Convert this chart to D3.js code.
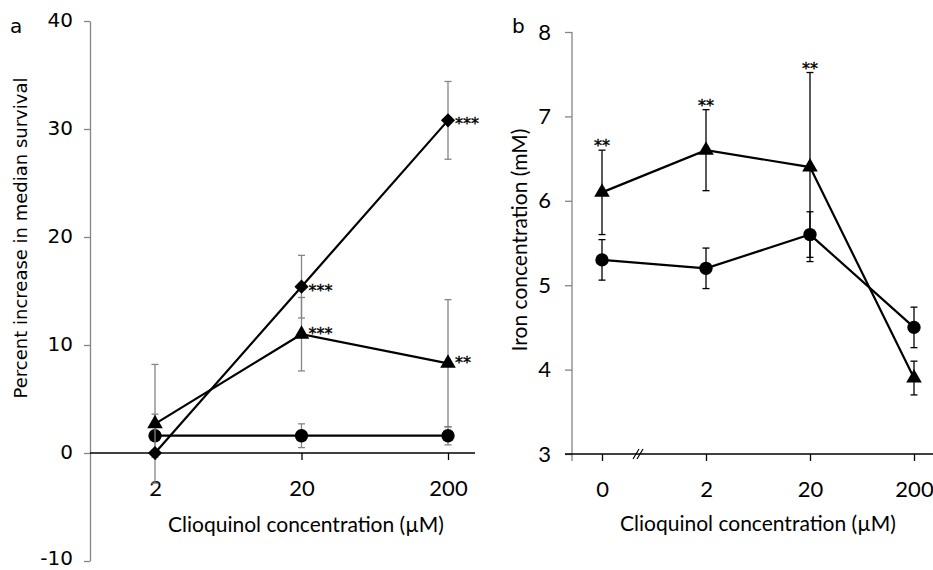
<!DOCTYPE html>
<html>
<head>
<meta charset="utf-8">
<script src="https://cdn.jsdelivr.net/npm/d3@7"></script>
<style>
  body { margin: 0; background: #fff; }
  svg { display: block; font-family: Lato, "Open Sans", sans-serif; }
  .sig { stroke: #000; stroke-width: 0.4px; fill: #000; }
</style>
</head>
<body>
<svg id="chart" width="933" height="570"></svg>
<script>
// panel a: percent increase in median survival
const aCats = ["2", "20", "200"];
const aDiamond = [0, 15.4, 30.8];
const aDiamondErr = [0, 2.9, 3.6];
const aTriangle = [2.7, 11.0, 8.3];
const aTriangleErr = [5.5, 3.4, 5.9];
const aCircle = [1.6, 1.6, 1.6];
const aCircleErr = [2.0, 1.1, 0.85];
const aDiamondSig = ["", "***", "***"];
const aTriangleSig = ["", "***", "**"];
const aTicks = [-10, 0, 10, 20, 30, 40];

// panel b: iron concentration
const bCats = ["0", "2", "20", "200"];
const bTriangle = [6.1, 6.6, 6.4, 3.9];
const bTriangleErr = [0.5, 0.48, 1.12, 0.2];
const bCircle = [5.3, 5.2, 5.6, 4.5];
const bCircleErr = [0.24, 0.24, 0.27, 0.24];
const bTriangleSig = ["**", "**", "**", ""];
const bTicks = [3, 4, 5, 6, 7, 8];

const svg = d3.select("#chart");
const grey = "#858585";
const sansA = "'DejaVu Sans', sans-serif";   // tahoma-ish texts
const sansB = "Lato, sans-serif";             // calibri-ish texts

const markers = {
  diamond: d3.symbol().type(d3.symbolSquare).size(100),
  triangle: d3.symbol().type(d3.symbolTriangle).size(105),
  circle: d3.symbol().type(d3.symbolCircle).size(140)
};

function series(g, x, y, cats, vals, errs, shape, errColor) {
  const rows = cats.map((c, i) => ({ c: c, v: vals[i], e: errs[i] }));

  // error bars
  const eb = g.append("g").attr("stroke", errColor).attr("stroke-width", 1.3);
  rows.filter(d => d.e > 0).forEach(d => {
    const cx = x(d.c), y1 = y(d.v + d.e), y2 = y(d.v - d.e);
    eb.append("line").attr("x1", cx).attr("x2", cx).attr("y1", y1).attr("y2", y2);
    eb.append("line").attr("x1", cx - 3.5).attr("x2", cx + 3.5).attr("y1", y1).attr("y2", y1);
    eb.append("line").attr("x1", cx - 3.5).attr("x2", cx + 3.5).attr("y1", y2).attr("y2", y2);
  });

  g.append("path")
    .datum(rows)
    .attr("fill", "none")
    .attr("stroke", "#000")
    .attr("stroke-width", 2.2)
    .attr("d", d3.line().x(d => x(d.c)).y(d => y(d.v)));

  g.selectAll(null)
    .data(rows)
    .enter()
    .append("path")
      .attr("d", markers[shape])
      .attr("fill", "#000")
      .attr("transform", d => "translate(" + x(d.c) + "," + y(d.v) + ")" + (shape == "diamond" ? " rotate(45)" : ""));
}

function styleAxis(g, color, font, size) {
  g.select(".domain").attr("stroke", color).attr("stroke-width", 1.3);
  g.selectAll(".tick line").attr("stroke", color).attr("stroke-width", 1.3);
  g.selectAll(".tick text").attr("fill", "#000").style("font-size", size + "px").style("font-family", font);
}

// ---------- panel a ----------
const ax = d3.scalePoint().domain(aCats).range([155, 448]);
const ay = d3.scaleLinear().domain([-10, 40]).range([561, 21]);
const pa = svg.append("g");

const ayAxis = pa.append("g")
  .attr("transform", "translate(90,0)")
  .call(d3.axisLeft(ay).tickValues(aTicks).tickFormat(d => String(d))
    .tickSize(6).tickPadding(11).tickSizeOuter(0));
styleAxis(ayAxis, grey, sansA, 20);
// bottom label sits on the picture edge, keep it just inside
ayAxis.selectAll(".tick text").attr("dy", d => d < 0 ? "0.16em" : "0.27em");

const axAxis = pa.append("g")
  .attr("transform", "translate(0," + ay(0) + ")")
  .call(d3.axisBottom(ax).tickSize(7).tickPadding(20).tickSizeOuter(0));
axAxis.select(".domain").attr("d", "M90,0H475");
styleAxis(axAxis, "#000", sansB, 22);

series(pa, ax, ay, aCats, aCircle, aCircleErr, "circle", grey);
series(pa, ax, ay, aCats, aTriangle, aTriangleErr, "triangle", grey);
series(pa, ax, ay, aCats, aDiamond, aDiamondErr, "diamond", grey);

pa.selectAll(".sigD")
  .data(aCats.map((c, i) => ({ c: c, v: aDiamond[i], s: aDiamondSig[i] })))
  .enter().append("text")
    .attr("class", "sig")
    .attr("x", d => ax(d.c) + 7)
    .attr("y", d => ay(d.v) + 9)
    .style("font-family", sansA)
    .style("font-size", "16px")
    .text(d => d.s);
pa.selectAll(".sigT")
  .data(aCats.map((c, i) => ({ c: c, v: aTriangle[i], s: aTriangleSig[i] })))
  .enter().append("text")
    .attr("class", "sig")
    .attr("x", d => ax(d.c) + 7)
    .attr("y", d => ay(d.v) + 5)
    .style("font-family", sansA)
    .style("font-size", "16px")
    .text(d => d.s);

pa.append("text").attr("x", 306).attr("y", 532).attr("text-anchor", "middle")
  .style("font-size", "21px").text("Clioquinol concentration (µM)");
pa.append("text").attr("transform", "translate(27,238) rotate(-90)").attr("text-anchor", "middle")
  .style("font-family", sansA).style("font-size", "18px").text("Percent increase in median survival");
pa.append("text").attr("x", 10).attr("y", 33)
  .style("font-family", sansA).style("font-size", "20px").text("a");

// ---------- panel b ----------
const bx = d3.scalePoint().domain(bCats).range([602, 914]);
const by = d3.scaleLinear().domain([3, 8]).range([454, 32]);
const pb = svg.append("g");

const byAxis = pb.append("g")
  .attr("transform", "translate(572,0)")
  .call(d3.axisLeft(by).tickValues(bTicks).tickFormat(d3.format("d"))
    .tickSize(7).tickPadding(14).tickSizeOuter(0));
byAxis.select(".domain").attr("d", "M0," + by(8) + "V" + (by(3) + 7));
styleAxis(byAxis, grey, sansB, 22);

const bxAxis = pb.append("g")
  .attr("transform", "translate(0," + by(3) + ")")
  .call(d3.axisBottom(bx).tickSize(7).tickPadding(20).tickSizeOuter(0));
bxAxis.select(".domain").attr("d", "M565,0H933");
styleAxis(bxAxis, "#000", sansB, 22);

// axis break
const brk = (bx("0") + bx("2")) / 2 - 16;
pb.append("g").attr("stroke", "#000").attr("stroke-width", 1.2)
  .selectAll("line").data([-2, 2]).enter().append("line")
    .attr("x1", d => brk + d - 3).attr("x2", d => brk + d + 3)
    .attr("y1", by(3) + 5).attr("y2", by(3) - 5);

series(pb, bx, by, bCats, bCircle, bCircleErr, "circle", "#000");
series(pb, bx, by, bCats, bTriangle, bTriangleErr, "triangle", "#000");

pb.selectAll(".sigB")
  .data(bCats.map((c, i) => ({ c: c, v: bTriangle[i] + bTriangleErr[i], s: bTriangleSig[i] })))
  .enter().append("text")
    .attr("class", "sig")
    .attr("x", d => bx(d.c))
    .attr("y", d => by(d.v) + 1)
    .attr("text-anchor", "middle")
    .style("font-family", sansA)
    .style("font-size", "16px")
    .text(d => d.s);

pb.append("text").attr("x", 758).attr("y", 531).attr("text-anchor", "middle")
  .style("font-size", "21px").text("Clioquinol concentration (µM)");
pb.append("text").attr("transform", "translate(527,240) rotate(-90)").attr("text-anchor", "middle")
  .style("font-size", "21px").text("Iron concentration (mM)");
pb.append("text").attr("x", 512).attr("y", 33)
  .style("font-family", sansA).style("font-size", "20px").text("b");
</script>
</body>
</html>
